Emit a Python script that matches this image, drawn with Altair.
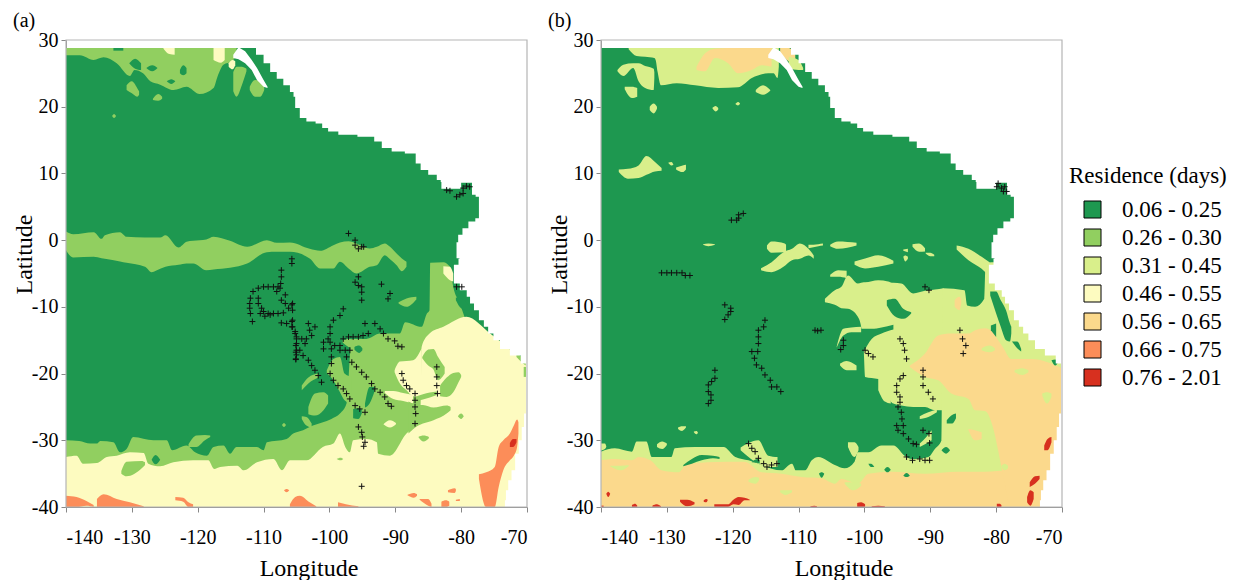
import altair as alt
import pandas as pd

LABELS = ["0.06 - 0.25", "0.26 - 0.30", "0.31 - 0.45", "0.46 - 0.55", "0.56 - 0.65", "0.66 - 0.75", "0.76 - 2.01"]
COLORS = ["#1e9850", "#91cf60", "#d9ef8b", "#fdfbc0", "#fbd98c", "#fc8d59", "#d7301f"]
D, M, L, P, T, O, R = range(7)

COAST = [(-40,-73.4),(-39,-73.3),(-37.5,-73.1),(-36,-72.6),(-34.5,-72.1),(-32,-71.5),(-30,-71),(-28,-70.6),(-26,-70.3),(-21,-70),
 (-18.5,-70.3),(-17.3,-71.6),(-16.3,-73.6),(-15,-74.6),(-14,-75.6),(-13,-76.2),(-12,-76.9),(-10.5,-77.7),(-9.5,-78.4),(-8.5,-78.9),(-7.5,-79.4),
 (-6.5,-81),(-4.5,-81.2),(-3.7,-81),(-2.8,-79.8),(-2.7,-80.7),(-0.3,-80.7),(0.8,-80.2),(1.8,-79.4),(2.8,-78.4),(3.3,-77.3),(6.5,-77.3),
 (6.8,-78.3),(8.6,-78.4),(8.7,-83),(9,-83.2),(9.8,-84.2),(10.5,-85.8),(11.5,-86.5),(13,-87.3),(13.3,-89.8),(13.8,-91.3),(14.8,-92.8),(15.5,-93.6),
 (15.8,-97.9),(16.3,-99.4),(16.8,-101),(17.5,-101.2),(17.8,-103),(18.3,-104),(19.8,-105),(21.5,-105.4),(22.2,-105.5),(23.2,-106.5),
 (24.2,-107.5),(25.2,-108.5),(26.5,-109.5),(27.8,-110.5),(28.8,-111.8),(29.5,-111.8)]

WHITE = [
 [(-114.6,27.3,27.8),(-113.8,27.1,28.9),(-112.8,26.5,28.3),(-111.8,25.5,27),(-111,24,25.8),(-110,23,24),(-109.4,22.8,23)],
 [(-83,7.7,8.8),(-80,7.7,8.8)],
]

BLOBS_A = [
 (D,[(-140,-40,28.8),(-70,-40,28.8)]),
 # north
 (M,[(-140,27.7,28.8),(-137.9,27.7,28.8),(-135.8,27,28.8),(-134.3,27.4,28.8),(-132.3,26.5,28.8),(-130.3,24.6,28.8),(-129.6,25.5,28.8),(-128.3,25,28.8),(-127.2,23.8,28.8),(-125.7,23.3,28.8),(-123.7,22.5,28.8),(-121.7,23,28.8),(-119.7,21.9,28.8),(-117.6,22.8,28.8),(-117,24.5,28.8),(-116.1,26.3,28.8),(-114.8,26.8,28.8),(-114.1,27.7,28.8)]),
 (D,[(-130.4,26.5,26.5),(-129.5,25.7,27.2),(-128.6,25.5,26.5)]),
 (D,[(-127.8,25.8,25.8),(-126.9,25.3,26.2),(-126.1,25.8,25.8)]),
 (D,[(-124.7,23.8,23.8),(-124,23.4,24.1),(-123.4,23.8,23.8)]),
 (D,[(-122.7,25,25.5),(-122.2,24.7,26.2),(-121.7,25,25.8)]),
 (D,[(-132.8,28.4,28.8),(-131.3,28.4,28.8)]),
 (P,[(-125.2,28.7,28.8),(-124.3,27.9,28.8),(-123.5,27.8,28.8)]),
 (P,[(-117.6,27,28.8),(-116.5,26.6,28.8),(-115.9,27,28.8)]),
 (P,[(-115.3,26,26.5),(-114.7,25.6,27),(-114.3,26.2,26.8)]),
 (M,[(-114.6,22.3,25.2),(-114.1,21.5,26),(-113.3,23.2,26),(-112.6,25.3,25.7)]),
 (M,[(-112.1,22.5,23),(-111.3,21.5,24),(-110.5,21.5,23.8),(-109.9,22.5,23)]),
 (M,[(-130.8,22.5,23.2),(-130,22,23.8),(-129.2,21.5,22.8),(-128.9,21.8,22.3)]),
 (M,[(-126.8,21,21.2),(-126,20.9,21.9),(-125.4,21.2,21.5)]),
 (M,[(-133,18.6,18.6),(-132.7,18.3,18.9),(-132.4,18.6,18.6)]),
 # equatorial band
 (M,[(-140,-1.5,1.3),(-138.9,-2.6,0.9),(-135.8,-2.5,1.2),(-134.6,-2.7,0.2),(-134.1,-2.8,0.75),(-131.8,-3.2,1.2),(-130.8,-3.4,0.5),(-128,-4,0.4),(-127,-4.8,0.4),(-125.7,-4.3,0.4),(-124.9,-4,0.75),(-122.9,-3.7,-1.1),(-121.7,-3.5,-0.25),(-120.7,-3.5,-0.1),(-118.7,-4.5,0.1),(-117.6,-4.4,0.5),(-115.1,-4.15,-0.1),(-112.5,-3.5,-1),(-109.5,-1.8,0),(-108,-1.75,-0.4),(-106,-1.75,-0.35),(-103,-2.75,-1.3),(-101.4,-4.25,-1.6),(-99.4,-4.25,-0.75),(-98.4,-3.25,-0.35),(-97.1,-4.25,-0.15),(-95.9,-5,-0.5),(-93.9,-4,-1.25),(-92.8,-3.75,-1),(-91.6,-2.25,-0.5),(-90.8,-2.85,-1),(-89.8,-3.75,-2),(-89,-4.65,-2.75),(-88.3,-4,-3.25)]),
 # south
 (M,[(-140,-38,-30),(-138,-38,-30.1),(-136.3,-38,-30.5),(-135.3,-38,-30.5),(-134.8,-38,-30.1),(-132.8,-38,-30.3),(-131.8,-38,-31.8),(-130.8,-38,-31.3),(-129.8,-38,-29.5),(-126.7,-38,-30),(-124.7,-38,-30),(-123.9,-38,-31.5),(-121.7,-38,-30.8),(-120.4,-38,-31.8),(-118.6,-38,-32.3),(-117.6,-38,-31),(-116.1,-38,-30.8),(-115.1,-38,-32),(-114.1,-38,-31),(-111,-38,-31),(-110,-38,-31.5),(-109.5,-38,-30.3),(-106.5,-38,-29.8),(-105.5,-38,-29),(-104,-38,-28.5),(-102.5,-38,-27.8),(-99.7,-38,-26.8),(-98.4,-38,-26),(-97.4,-38,-24.5),(-96.6,-38,-14.8),(-94.4,-38,-14.8),(-92.3,-38,-14),(-89.3,-38,-14),(-88.5,-38,-12.3),(-86,-38,-13),(-85.2,-38,-11),(-84.8,-38,-10.5),(-84.7,-38,-3.4),(-82.7,-38,-3.3),(-81.7,-38,-4),(-81.2,-38,-7),(-80.2,-38,-9.5),(-79.5,-38,-11.5)]),
 (M,[(-121.4,-31,-30.6),(-120.2,-31,-29.3),(-118.9,-30,-29.2),(-118.1,-29.5,-29.3)]),
 (M,[(-107.2,-27.7,-27.7),(-106.9,-28,-27.4),(-106.6,-27.7,-27.7)]),
 (M,[(-103.2,-26.1,-25),(-102.2,-26.3,-23),(-100.9,-25.5,-22.8),(-100.2,-24.5,-23.3)]),
 (M,[(-104.2,-26.8,-26.4),(-103.5,-27.8,-26.5),(-102.7,-28.1,-27.5)]),
 (M,[(-104.2,-22.5,-21.8),(-103.2,-21.5,-20.6),(-101.7,-20.6,-20)]),
 (M,[(-100.4,-20,-19.5),(-99.4,-21,-17.8),(-98.4,-22.8,-17.5),(-97.7,-24,-20),(-96.6,-24.5,-20.5)]),
 (M,[(-98,-15.3,-15),(-97.1,-16,-14.8),(-96.1,-16.2,-15)]),
 (M,[(-89.5,-9.5,-9.3),(-88.3,-10,-8.75),(-86.8,-8.9,-8.5)]),
 (D,[(-96.2,-16.4,-16),(-95.5,-16.9,-15.8),(-95,-16.5,-16.2)]),
 (D,[(-94.6,-25.1,-24.5),(-93.9,-24.5,-22),(-93.1,-22.5,-22)]),
 (D,[(-96.4,-26.7,-25.3),(-95.6,-26.8,-25.2),(-95.1,-26,-25.3)]),
 (D,[(-80.8,-9,-8.6),(-80,-10.2,-8.7),(-78.7,-10.6,-10)]),
 # pale sea
 (P,[(-140,-40,-32.5),(-138.4,-40,-32.3),(-137.4,-40,-33.5),(-135.3,-40,-33.4),(-133.8,-40,-32.5),(-132.3,-40,-32.3),(-130.3,-40,-31.8),(-128.2,-40,-31.9),(-127.5,-40,-33.5),(-125.7,-40,-33.9),(-123.7,-40,-33.3),(-120.7,-40,-33),(-118.4,-40,-33),(-117.5,-40,-34.3),(-116.6,-40,-34),(-114,-40,-33.8),(-113,-40,-34.5),(-111,-40,-33.3),(-108.5,-40,-32.8),(-107.2,-40,-34.5),(-106,-40,-33),(-103.5,-40,-33),(-101,-40,-31),(-99.4,-40,-30.5),(-98.4,-40,-29),(-97.6,-40,-31),(-96.9,-40,-31.8),(-96.4,-40,-30),(-94.4,-40,-29.8),(-92.8,-40,-30.3),(-92.6,-40,-32),(-90.8,-40,-32.3),(-88.3,-40,-29),(-86.8,-40,-27.8),(-86.2,-40,-27.5),(-86,-40,-16),(-84.8,-40,-14),(-82.7,-40,-13),(-79.2,-40,-11.5),(-75.6,-40,-14),(-70,-40,-18.5)]),
 (P,[(-90.1,-19.8,-19.5),(-89.3,-21.5,-18.2),(-88.3,-22.5,-18.1),(-87.3,-23.4,-18),(-86,-23.5,-16.2)]),
 (P,[(-91.6,-22.9,-22.6),(-90.3,-23.8,-22.6),(-88.8,-24.1,-22.9),(-87.3,-24.5,-23.2)]),
 (P,[(-91.8,-27.6,-27.6),(-90.8,-28.1,-27),(-89.9,-27.6,-27.4)]),
 (P,[(-82.7,-5,-3.9),(-81.7,-6,-4),(-81.2,-6.2,-5)]),
 (M,[(-131.6,-35,-34.6),(-130.8,-35.4,-33.2),(-128.5,-34.2,-33.1),(-128,-33.7,-33.3)]),
 (D,[(-127,-32.9,-32.9),(-126.4,-33.6,-32.2),(-125.7,-32.9,-32.9)]),
 (M,[(-87,-24.2,-23.5),(-85.8,-23.9,-23.1),(-83.7,-23.2,-22.7)]),
 (M,[(-88,-29,-24.2),(-86.5,-27.8,-24.7),(-85.8,-27.5,-24.7),(-84.2,-27,-25.1),(-82.2,-26,-24.8),(-81.6,-25.5,-25)]),
 (M,[(-85.9,-17.7,-17.5),(-85,-18.8,-16.4),(-84.2,-19.4,-16.3),(-83.5,-21,-17.5),(-82.5,-20,-19)]),
 (M,[(-83.2,-23.4,-21.8),(-82.2,-23.5,-20.6),(-81.2,-22.8,-19.9),(-80.4,-21.3,-19.8),(-80,-20.5,-20.2)]),
 (M,[(-80.5,-26.4,-26.4),(-80,-26.8,-26),(-79.6,-26.4,-26.4)]),
 (M,[(-86.5,-29.5,-29.5),(-85.7,-30.2,-29.3),(-84.9,-29.7,-29.5)]),
 (M,[(-98.9,-32.8,-32.8),(-98.3,-33,-32.6),(-97.9,-32.8,-32.8)]),
 (M,[(-74.1,-16.2,-16),(-73.4,-16.3,-16)]),
 (M,[(-71.6,-17.5,-17),(-70.8,-18.3,-17.5),(-70.2,-18.8,-18.3)]),
 (M,[(-70.5,-20.5,-19),(-70,-20.5,-19)]),
 # orange
 (O,[(-140,-40,-38.3),(-138.4,-40,-38.5),(-136.9,-39.8,-39.1),(-135.8,-40,-39.7)]),
 (O,[(-135.3,-40,-38.8),(-134.3,-40,-38.1),(-132.3,-40,-38.8),(-130.3,-40,-39.3),(-128.2,-40,-39.9)]),
 (O,[(-123.4,-39,-38.5),(-122.2,-39.2,-38.6),(-121.4,-40,-39.3),(-120.7,-40,-39.6)]),
 (O,[(-106.9,-37.5,-37.5),(-106.5,-37.8,-37.3),(-106.1,-37.5,-37.5)]),
 (O,[(-106,-40,-39.6),(-105.2,-40,-38.5),(-104.5,-40,-38.3),(-103,-40,-39.3),(-102,-40,-39.9)]),
 (O,[(-98.7,-40,-39.3),(-97.5,-40,-39.6),(-95.6,-40,-39.9)]),
 (O,[(-88.2,-38.2,-38.2),(-87.2,-38.6,-37.9),(-86.7,-38.3,-38.1)]),
 (O,[(-86.3,-38.9,-38.8),(-85,-39.8,-38.8),(-84.5,-40,-39.5)]),
 (O,[(-83,-40,-39.2),(-82.3,-40,-39),(-81.8,-39.8,-39.2)]),
 (O,[(-82,-37.8,-37.5),(-81,-37.9,-37.2),(-80.8,-37.6,-37.3)]),
 (O,[(-80.8,-39.1,-38.9),(-80.2,-39.1,-38.8)]),
 (O,[(-77.3,-35.8,-35.1),(-76.2,-40,-34.8),(-74.9,-40,-34),(-74.3,-37,-31),(-73.6,-34.5,-30),(-72.6,-33,-29),(-72,-32.3,-27.8),(-71.5,-31,-26.9),(-71.3,-29,-27.3)]),
 (R,[(-72.6,-31,-30.4),(-72.1,-31,-29.8),(-71.6,-30.3,-29.8)]),
]

BLOBS_B = [
 (D,[(-140,-40,28.8),(-70,-40,28.8)]),
 (L,[(-135.8,28.6,28.8),(-134.6,27.6,28.8),(-133.3,27.5,28.8),(-131.9,27.3,28.8),(-131.7,27,28.8),(-131.4,25.2,28.8),(-130.9,23.2,28.8),(-128.5,23.5,28.8),(-125.7,23.2,28.8),(-122.2,22.8,28.8),(-119.2,22.9,28.8),(-117.1,24.3,28.8),(-114.6,25,28.8),(-113.8,25,28.8),(-113.2,24.3,28.8),(-113,26,28.8)]),
 (T,[(-125.5,25.5,26),(-124.2,25.3,28),(-122.7,27.3,28.7),(-120.7,26.5,28.8),(-119.2,25,28.8),(-117.1,25.5,28.8),(-115.6,26.2,28.8),(-114.1,26,28.8)]),
 (L,[(-137.5,25.3,25.5),(-136.6,24.6,26.3),(-135.1,25.8,26.5),(-134.3,23.8,26.5),(-133.3,22.8,26.1),(-132,22.5,25.7),(-131.9,24.3,25.2)]),
 (L,[(-136.4,22.6,23),(-135.3,21.3,23),(-134.5,21.5,22.8)]),
 (L,[(-132.6,19.5,20),(-132,19,20.5),(-131.5,19.7,20)]),
 (L,[(-123.1,19.8,19.8),(-122.6,19.3,20.1),(-122.2,19.6,19.8)]),
 (L,[(-119.6,20.4,20.4),(-119.2,20.2,20.7),(-118.9,20.4,20.5)]),
 (L,[(-116.5,22.2,22.5),(-115.4,21.8,23.2),(-114.3,22.4,22.5)]),
 (L,[(-137.3,10.2,10.6),(-135.9,9.2,10.7),(-134.3,9.3,11.2),(-133.1,9.8,12.6),(-131.8,10.3,11.7),(-130.8,10.4,10.8)]),
 (L,[(-129.8,11.6,11.6),(-129.3,11.2,11.7),(-129,11.3,11.3)]),
 (L,[(-128.6,10.6,10.9),(-127.6,10.2,11.2),(-127.1,10.6,11.3)]),
 (L,[(-124.5,-0.7,-0.6),(-123.7,-0.9,-0.5),(-122.7,-0.7,-0.6)]),
 (L,[(-114.8,-1.3,-0.8),(-114.1,-1.9,-0.2),(-112.1,-1.8,-0.5),(-111.9,-1.8,-0.7)]),
 (L,[(-115.7,-4.5,-4.2),(-114.1,-4.8,-3.3),(-112.3,-4,-1.8),(-111,-3,-1.3),(-109.8,-2.8,-0.5),(-108.5,-2.3,-1.3),(-107.7,-2.8,-2.3)]),
 (L,[(-108.5,-1.2,-0.7),(-107,-0.9,-0.6),(-106.3,-0.8,-0.5)]),
 (L,[(-105.2,-0.9,-0.7),(-104,-1.3,-0.2),(-101.2,-0.8,-0.4)]),
 (L,[(-101.5,-3.7,-3.2),(-99.9,-4.25,-2.75),(-97.9,-4,-2.25),(-95.6,-3.5,-3.1)]),
 (L,[(-92.7,-1,-0.6),(-91.7,-1.75,-0.5),(-90.8,-1.7,-1.2)]),
 (L,[(-94.1,-1.6,-1.4),(-93.4,-1.8,-1.3)]),
 (L,[(-94.1,-2.5,-2.5),(-93.8,-3.2,-2.3),(-93.4,-2.8,-2.5)]),
 (L,[(-90.7,-2,-1.9),(-90,-2.4,-1.9),(-89.4,-2.4,-2.2)]),
 (L,[(-86,-1.4,-0.8),(-84.2,-3,-1.3),(-82.2,-4.3,-2.5),(-81,-5.5,-3.3)]),
 (L,[(-105.2,-5.5,-5.2),(-104,-5.5,-4.5),(-102.7,-5.7,-4.6)]),
 (L,[(-106,-9.3,-8.8),(-104.5,-9.7,-7.5),(-103.5,-10.2,-7),(-102.5,-10.3,-5.3),(-101,-11.5,-6.5),(-100.5,-13,-6.4),(-100.1,-16.7,-6.3),(-99.9,-20.5,-6.3),(-97.9,-20.8,-6),(-96.4,-21.3,-6.2),(-96.1,-24,-6.3),(-95.6,-24.5,-6.4),(-94.4,-24.8,-6.5),(-92.6,-25,-8),(-90.8,-25,-7.6),(-89.3,-25.5,-7.4),(-88,-25.5,-7.2)]),
 (D,[(-104.5,-16.5,-16.3),(-103,-18,-14),(-101.4,-18.3,-13.5),(-100.2,-16.8,-13.3),(-98.9,-14.8,-13.3),(-97.4,-14,-13.1),(-95.6,-13.4,-12.7)]),
 (L,[(-104.2,-16.1,-15.9),(-103.2,-14.3,-13.3),(-102,-13.8,-13.1),(-100.5,-13.8,-13)]),
 (L,[(-103.7,-18.8,-18.5),(-102.7,-19.5,-18.1),(-101.2,-19.5,-18.8)]),
 (L,[(-97.9,-22.5,-20.5),(-96.9,-24.2,-20.5),(-96,-24.5,-20.5)]),
 (D,[(-96.6,-9.8,-9),(-95.4,-11.4,-8.8),(-94.1,-11.8,-10.3),(-92.9,-11,-10.8)]),
 (L,[(-140,-40,-31.7),(-137.9,-40,-31.2),(-135.3,-40,-31.7),(-134.6,-40,-30.2),(-133.1,-40,-30.2),(-132.3,-40,-32.5),(-129.3,-40,-32.5),(-128.8,-40,-31.2),(-125.7,-40,-31),(-121.4,-40,-31),(-119.6,-40,-32.5),(-117.6,-40,-33),(-112.6,-40,-34.5),(-111,-40,-33.5),(-110.4,-40,-34.5),(-109,-40,-34.5),(-108,-40,-33),(-107,-40,-32.5),(-104.5,-40,-33.7),(-103,-40,-34.2),(-101.5,-40,-33.2),(-101,-40,-31.8),(-99.4,-40,-31.8),(-97.4,-40,-30.8),(-95.6,-40,-30.8),(-93.9,-40,-32.3),(-92.8,-40,-32.8),(-90.3,-40,-32.5),(-89.3,-40,-31.3),(-88.3,-40,-30),(-88.1,-40,-7.2),(-84.8,-40,-7.5),(-84.4,-40,-9.8),(-83.2,-40,-10),(-81.8,-40,-8.8),(-81.6,-40,-3.5),(-80.7,-40,-3.3),(-70,-40,-3.3)]),
 (L,[(-102.5,-31,-30.3),(-101.5,-32.5,-30.3),(-100.9,-31.5,-31)]),
 (L,[(-118.8,-31.5,-31.1),(-117.6,-32.5,-30.4),(-116.1,-33.5,-30),(-114.6,-34,-32.3),(-113.2,-34,-32.5)]),
 (L,[(-131.5,-31,-30.6),(-130.7,-31.3,-30.2),(-130,-30.7,-30.5)]),
 (L,[(-128.3,-28.3,-28.1),(-127.7,-28.6,-27.9),(-127.1,-28.1,-27.9)]),
 (L,[(-125.9,-28.8,-28.7),(-125.5,-29.1,-28.6),(-125.3,-28.9,-28.8)]),
 (L,[(-140,-31.5,-30.5),(-139.4,-31.3,-30.5),(-139.2,-31,-30.9)]),
 (L,[(-91.6,-26.8,-26.4),(-90.3,-26.5,-25.8),(-89,-25.8,-25.4)]),
 (L,[(-91.6,-31,-30.5),(-90.6,-30.5,-29.5),(-89.8,-30,-28.5)]),
 (T,[(-140,-40,-33),(-137.9,-40,-32.8),(-135.3,-40,-33),(-134.3,-40,-32.5),(-132.5,-40,-33),(-130.8,-40,-34.5),(-128.2,-40,-34.8),(-127,-40,-33.5),(-120.7,-40,-33.2),(-118.2,-40,-33.2),(-115.6,-40,-34.8),(-112.6,-40,-35),(-109.5,-40,-35.5),(-106.5,-40,-35.7),(-104.5,-40,-36.5),(-103.5,-40,-35.8),(-101,-40,-36.5),(-99.4,-40,-35),(-95.9,-40,-34.7),(-90.8,-40,-35),(-85.8,-40,-34.7),(-81.7,-40,-34.7),(-78,-40,-34.5),(-70,-40,-34.5)]),
 (T,[(-93.1,-19,-18.8),(-90.8,-20.5,-17),(-88.8,-21,-14.3),(-86.8,-23,-14),(-84.2,-23.8,-14),(-83.2,-25.5,-13.5),(-81.7,-25.6,-13.2),(-80.5,-28,-13.8),(-79.7,-31.5,-15),(-79,-35,-16),(-77.7,-40,-17.8),(-74.6,-40,-17.8),(-70,-40,-19.2)]),
 (T,[(-84.2,-28.5,-28.3),(-83.2,-30,-28.5),(-82.2,-29.8,-28.8)]),
 (T,[(-86.3,-10,-9),(-85.6,-10.5,-8.5),(-85.3,-9.5,-8.8)]),
 (L,[(-138.6,-33.9,-33.8),(-137,-34.5,-33.8),(-135.8,-33.9,-33.7)]),
 (L,[(-117.6,-36.2,-35.9),(-116.5,-36.5,-35.5),(-116,-36,-35.6)]),
 (L,[(-112.8,-37.8,-37.5),(-112,-38.2,-37.5),(-111,-37.8,-37.5)]),
 (L,[(-103,-36.5,-36.3),(-101.7,-37.5,-36.3),(-100.5,-36.8,-36.5)]),
 (L,[(-79.2,-34,-33.8),(-78.7,-34.5,-33.5),(-78.2,-34.2,-33.8)]),
 (L,[(-82.2,-16.5,-16.2),(-81,-16.8,-15.8),(-80.2,-16.5,-16.2)]),
 (L,[(-77.2,-19.8,-19.5),(-76,-20.2,-19.2),(-75.1,-19.8,-19.5)]),
 (L,[(-73,-23.3,-23),(-72.3,-24.5,-22.8),(-71.6,-23.5,-23)]),
 (D,[(-80.9,-8.3,-7.7),(-80,-11,-7.7),(-79.3,-13,-9),(-78.5,-15,-10.5),(-77.9,-15.2,-12.5),(-77.7,-14,-13)]),
 (D,[(-80.8,-13.5,-12.8),(-80,-14.5,-12.5)]),
 (D,[(-77.6,-15.2,-15.2),(-76.8,-16.2,-15.2),(-76.2,-16.7,-16.3)]),
 (D,[(-87.5,-27.5,-27),(-86.7,-27.5,-26.2),(-86.1,-26.7,-26)]),
 (D,[(-88.3,-31.5,-31.5),(-87.6,-32,-31),(-87,-31.5,-31.5)]),
 (D,[(-97,-34.4,-34.4),(-96.5,-34.8,-34),(-96,-34.4,-34.4)]),
 (D,[(-94.1,-35.3,-35.3),(-93.6,-35.5,-34.9),(-93.1,-35.3,-35.3)]),
 (D,[(-99.4,-33.5,-33.5),(-99,-34,-33.5),(-98.5,-34,-34)]),
 (D,[(-71.6,-18,-18),(-71,-18.8,-17.9),(-70.7,-18.5,-18.3)]),
 (D,[(-127.5,-33.9,-33.7),(-126.2,-33.5,-32.8),(-124.7,-33,-32.2),(-123,-32.7,-32.3),(-122,-32.8,-32.5)]),
 (D,[(-117.1,-33.3,-33.2),(-116.2,-33.4,-32.8),(-115.9,-33.5,-33)]),
 (D,[(-106.9,-35,-35),(-106.5,-35.6,-34.8),(-106.1,-35,-35)]),
 (T,[(-112.8,28,28.8),(-111.5,26.8,28.8),(-110.5,26.5,27.8)]),
 (L,[(-111.5,25.8,27.5),(-110,25.5,27),(-109.3,25.5,25.8)]),
 (R,[(-72.7,-31.5,-30.8),(-72.2,-31.5,-29.8),(-71.6,-30.3,-29.5)]),
 (R,[(-74.9,-37,-36.3),(-74.1,-36.5,-35.4),(-73.4,-35.8,-35.3)]),
 (R,[(-75.3,-39.3,-38.5),(-74.8,-39.8,-37.5),(-74.3,-38.8,-37.8)]),
 (R,[(-101.1,-40,-39.4),(-100.5,-40,-39.3),(-99.9,-40,-39.6)]),
 (R,[(-98.9,-40,-39.9),(-97.9,-40,-39.8),(-96.9,-40,-39.9)]),
 (R,[(-79.9,-40,-39.5),(-79.5,-40,-39.5),(-79.2,-40,-39.7)]),
 (R,[(-139.2,-38,-38),(-138.9,-38.5,-37.7),(-138.6,-38,-38)]),
 (R,[(-128,-39.2,-38.9),(-126.9,-39.9,-38.9),(-125.8,-39.6,-39.3)]),
 (R,[(-124.4,-39.2,-39),(-124,-39.3,-38.8),(-123.8,-39,-38.9)]),
 (R,[(-122.8,-40,-39.6),(-120.7,-40,-39.6),(-119.9,-39.6,-38.9),(-119.1,-39.7,-38.5),(-118.2,-39,-38.6),(-117.4,-39,-38.9)]),
 (R,[(-135.3,-40,-39.7),(-134.8,-40,-39.5),(-134.5,-40,-39.8)]),
 (R,[(-132.2,-40,-39.8),(-131.5,-40,-39.6),(-130.9,-40,-39.9)]),
 (R,[(-108.2,-40,-39.9),(-107.6,-40,-39.8),(-107.2,-40,-39.9)]),
 (R,[(-140,-40,-39.8),(-139.6,-40,-39.8)]),
]

CROSS_A = [(-107.3,-4.5),(-107.3,-5.5),(-107.4,-6.5),(-107.8,-7),(-108.5,-7),(-109.3,-7),(-110,-7),(-110.8,-7.2),(-111.6,-7.7),(-112,-8.7),(-112.1,-9.5),(-112.1,-10.2),(-112,-11),(-111.7,-12.2),
 (-110.8,-8.7),(-110.8,-9.5),(-110.3,-10.2),(-110,-10.7),(-109.3,-11),(-108.5,-11),(-107.8,-11),(-107,-10.9),(-106.2,-10.2),(-105.7,-9.7),(-106.7,-9.5),(-107.3,-9),(-106.7,-8.2),(-108,-7.7),(-107.5,-7.2),(-110.5,-11),(-109.8,-11.4),(-109,-11.2),
 (-107.3,-12.4),(-106.5,-12.5),(-105.7,-12.2),(-105.7,-13),(-105.2,-13.7),(-105,-14.5),(-105,-15.5),(-105,-16.5),(-105,-17.2),(-105.1,-17.9),
 (-95.6,-5.5),(-96.1,-6.3),(-95.6,-6.8),(-95.1,-7),(-95.1,-7.8),(-95.1,-9),(-92.1,-6.6),(-90.8,-8),(-91.1,-8.8),(-105.6,-9.5),(-105.6,-10.5),
 (-105.6,-12),(-105.6,-13),(-105.2,-14),(-105,-14.8),(-105.1,-15.8),(-105.1,-16.8),(-105.1,-17.8),(-104.2,-14.8),(-103.5,-14.8),(-103.7,-15.5),(-104.5,-16.5),(-104,-17.3),(-103.2,-18),(-102.7,-18.8),(-102.2,-19.5),(-101.7,-20.3),(-101.2,-21.3),
 (-103.2,-12.5),(-103,-13.5),(-102.2,-13),(-102.7,-14.3),
 (-97.9,-10.3),(-98.4,-11.3),(-99.4,-12),(-99.9,-13),(-99.9,-14),(-100.2,-14.8),(-100.9,-15.3),(-100.9,-16.3),(-99.9,-15.3),(-99.7,-16.3),(-99.7,-17.5),(-99.7,-18.5),(-99.2,-15.8),(-98.4,-15.8),(-98.4,-16.5),(-97.6,-16.5),(-96.9,-16.5),
 (-97.9,-14.8),(-97.1,-14.5),(-96.4,-14.5),(-95.6,-14.5),(-94.9,-14.3),(-94.6,-12.5),(-94.1,-14),
 (-93.1,-12.5),(-92.3,-13.3),(-91.8,-14),(-91.1,-14.8),(-90.1,-15.1),(-89.6,-15.9),(-89,-16),
 (-97.4,-17.5),(-96.6,-18.3),(-95.9,-19),(-95.1,-19.8),(-94.4,-20.5),(-93.6,-21.5),(-93.1,-22.3),(-92.3,-22.8),(-91.6,-23.5),(-91.1,-24.5),(-90.6,-24.9),
 (-99.9,-20),(-99.4,-21),(-98.7,-21.8),(-97.9,-22.3),(-97.4,-23),(-96.9,-23.8),(-96.1,-24.8),(-95.4,-25.3),(-94.6,-25.8),
 (-89,-20),(-88.8,-21),(-88.3,-21.8),(-87.8,-22.3),(-87,-23),(-87,-24),(-87,-25),(-86.9,-26),(-87,-27.5),
 (-83.7,-19),(-83.7,-20.5),(-83.7,-21.8),(-83.6,-23),
 (-95.6,-28),(-95.1,-28.8),(-95,-29.5),(-94.6,-30.3),(-94.8,-30.9),(-95.1,-36.9),
 (-80.7,-7),(-79.9,-7),
 (-97.1,1),(-96.1,0),(-96.1,-0.75),(-95.6,-1.3),(-95.1,-1),(-94.8,-1),(-105.7,-2.8),(-105.7,-3.5),(-82.2,7.5),(-81.7,7.4),(-80.7,6.5),(-80.2,6.8),(-79.7,7),(-79.7,7.8),(-79.2,8.1),(-78.7,8)]

CROSS_B = [(-79.7,8.5),(-79.9,8),(-79.2,7.8),(-78.9,7.3),(-78.4,7.3),(-78.7,8),
 (-120.2,3),(-119.4,3),(-119.1,3.8),(-118.4,4),(-119.1,3.3),
 (-130.8,-4.9),(-130,-4.9),(-129.3,-4.9),(-128.5,-4.9),(-127.7,-4.9),(-127.2,-5.3),(-126.5,-5.3),
 (-121.2,-9.7),(-120.3,-10.2),(-120.3,-10.7),(-120.7,-11.2),(-121.2,-11.9),
 (-115.1,-12),(-115.3,-13),(-116.1,-13.5),(-116.1,-14.5),(-116.1,-15.5),(-116.2,-16.7),(-117.1,-16.7),(-116.7,-17.7),(-116.4,-18.7),(-115.6,-19.2),(-115.1,-20.2),(-114.3,-21),(-114.1,-22),(-113.3,-22),(-112.7,-22.7),
 (-122.7,-19.5),(-122.7,-20.7),(-123.2,-21.2),(-123.7,-21.7),(-123.7,-22.7),(-123.3,-23.2),(-123.3,-24),(-123.7,-24.5),
 (-107.1,-13.6),(-107.5,-13.5),(-106.6,-13.5),
 (-117.6,-30.5),(-117.1,-31.2),(-116.6,-31.7),(-116.1,-32.7),(-115.3,-33.5),(-114.8,-34),(-114.1,-33.7),(-113.3,-33.5),
 (-90.8,-7),(-90.2,-7.5),(-103.2,-15),(-103.2,-15.8),(-103.6,-16.4),(-99.9,-16.5),(-99.4,-17),(-98.7,-17.5),
 (-94.6,-14.8),(-94.1,-15.5),(-93.9,-16.5),(-93.6,-17.8),(-94.1,-20.3),(-94.6,-20.8),(-95.1,-21.8),(-95.1,-22.8),(-94.6,-23.5),(-94.6,-24.3),(-94.9,-25),(-94.4,-25.8),(-94.3,-26.8),(-94.1,-27.8),(-95.1,-27.8),(-94.9,-28.5),(-94.1,-29),(-93.3,-29.8),(-92.6,-30.5),(-92.1,-30.6),(-91.1,-28.5),(-90.2,-29),(-90.1,-30.4),(-91.1,-19.5),(-91.1,-20.5),(-91.1,-21.8),(-90.3,-22.8),(-89.6,-23.8),(-93.6,-32.5),(-92.7,-33),(-91.6,-32.8),(-90.8,-33),(-90.1,-33),
 (-85.5,-13.5),(-85.1,-14.8),(-84.6,-15.8),(-85,-17)]

TICKS_X = [-140, -130, -120, -110, -100, -90, -80, -70]
TICKS_Y = [-40, -30, -20, -10, 0, 10, 20, 30]
FONT = "Liberation Serif"
W, H = 461, 467


def blob_frame(blobs):
    rows = []
    for i, (cls, pts) in enumerate(blobs):
        for lon, lo, hi in pts:
            rows.append({"b": i, "cls": LABELS[cls], "lon": lon, "lo": lo, "hi": hi})
    return pd.DataFrame(rows)


def panel(blobs, crosses, tag, legend):
    xs = alt.Scale(domain=[-140, -70], nice=False, zero=False)
    ys = alt.Scale(domain=[-40, 30], nice=False, zero=False)
    common = dict(grid=False, tickColor="#888", domainColor="#888", tickSize=5, labelFontSize=20, titleFontSize=24,
                  labelFont=FONT, titleFont=FONT, labelColor="black", titleColor="black", titleFontWeight="normal",
                  labelExpr="datum.value + ''")
    xax = alt.Axis(values=TICKS_X, title="Longitude", labelPadding=15, titlePadding=9, titleX=W / 2 + 12, **common)
    yax = alt.Axis(values=TICKS_Y, title="Latitude", labelPadding=3, titleX=-30, titleY=214, **common)
    fill = alt.Chart(blob_frame(blobs)).mark_area(interpolate="monotone", clip=True, opacity=1).encode(
        x=alt.X("lon:Q", scale=xs, axis=xax),
        y=alt.Y("lo:Q", scale=ys, axis=yax),
        y2="hi:Q",
        detail="b:Q",
        color=alt.Color("cls:N", scale=alt.Scale(domain=LABELS, range=COLORS), legend=legend),
    )
    coast = pd.DataFrame(COAST, columns=["lat", "east"]).assign(lim=-70)
    land = alt.Chart(coast).mark_area(orient="horizontal", interpolate="step", color="white", clip=True).encode(
        x="east:Q", x2="lim:Q", y="lat:Q")
    wrows = [{"b": i, "lon": a, "lo": b, "hi": c} for i, w in enumerate(WHITE) for a, b, c in w]
    strip = alt.Chart(pd.DataFrame(wrows)).mark_area(color="white", clip=True).encode(
        x="lon:Q", y="lo:Q", y2="hi:Q", detail="b:Q")
    marks = alt.Chart(pd.DataFrame(crosses, columns=["lon", "lat"])).mark_point(
        shape="M-1,0L1,0M0,-1L0,1", stroke="#111", strokeWidth=1, size=36, fill=None, opacity=1).encode(
        x="lon:Q", y="lat:Q")
    frame = alt.Chart(pd.DataFrame({"a": [0]})).mark_rect(filled=False, stroke="#b5b5b5", strokeWidth=1.2).encode(
        x=alt.value(0), x2=alt.value(W), y=alt.value(0), y2=alt.value(H))
    return alt.layer(fill, land, strip, marks, frame).properties(
        width=W, height=H,
        title=alt.TitleParams(tag, anchor="start", frame="group", dx=-53, offset=-1, font=FONT, fontSize=20,
                              fontWeight="normal", color="black"))


LEG = alt.Legend(title="Residence (days)", orient="none", legendX=468, legendY=125, titleFont=FONT, titleFontSize=23,
                 titleFontWeight="normal", titleColor="black", labelFont=FONT, labelFontSize=23, labelColor="black",
                 symbolType="square", symbolSize=289, symbolStrokeColor="black", symbolStrokeWidth=1,
                 symbolOffset=12, labelOffset=18, rowPadding=4, titlePadding=10, padding=0)

chart = alt.hconcat(
    panel(BLOBS_A, CROSS_A, "(a)", None), panel(BLOBS_B, CROSS_B, "(b)", LEG), spacing=19
).resolve_legend(color="independent").properties(
    padding={"left": 4, "top": 3, "right": 0, "bottom": 0}).configure_view(stroke=None)

chart.save("out.html", embed_options={"renderer": "svg", "actions": False})
